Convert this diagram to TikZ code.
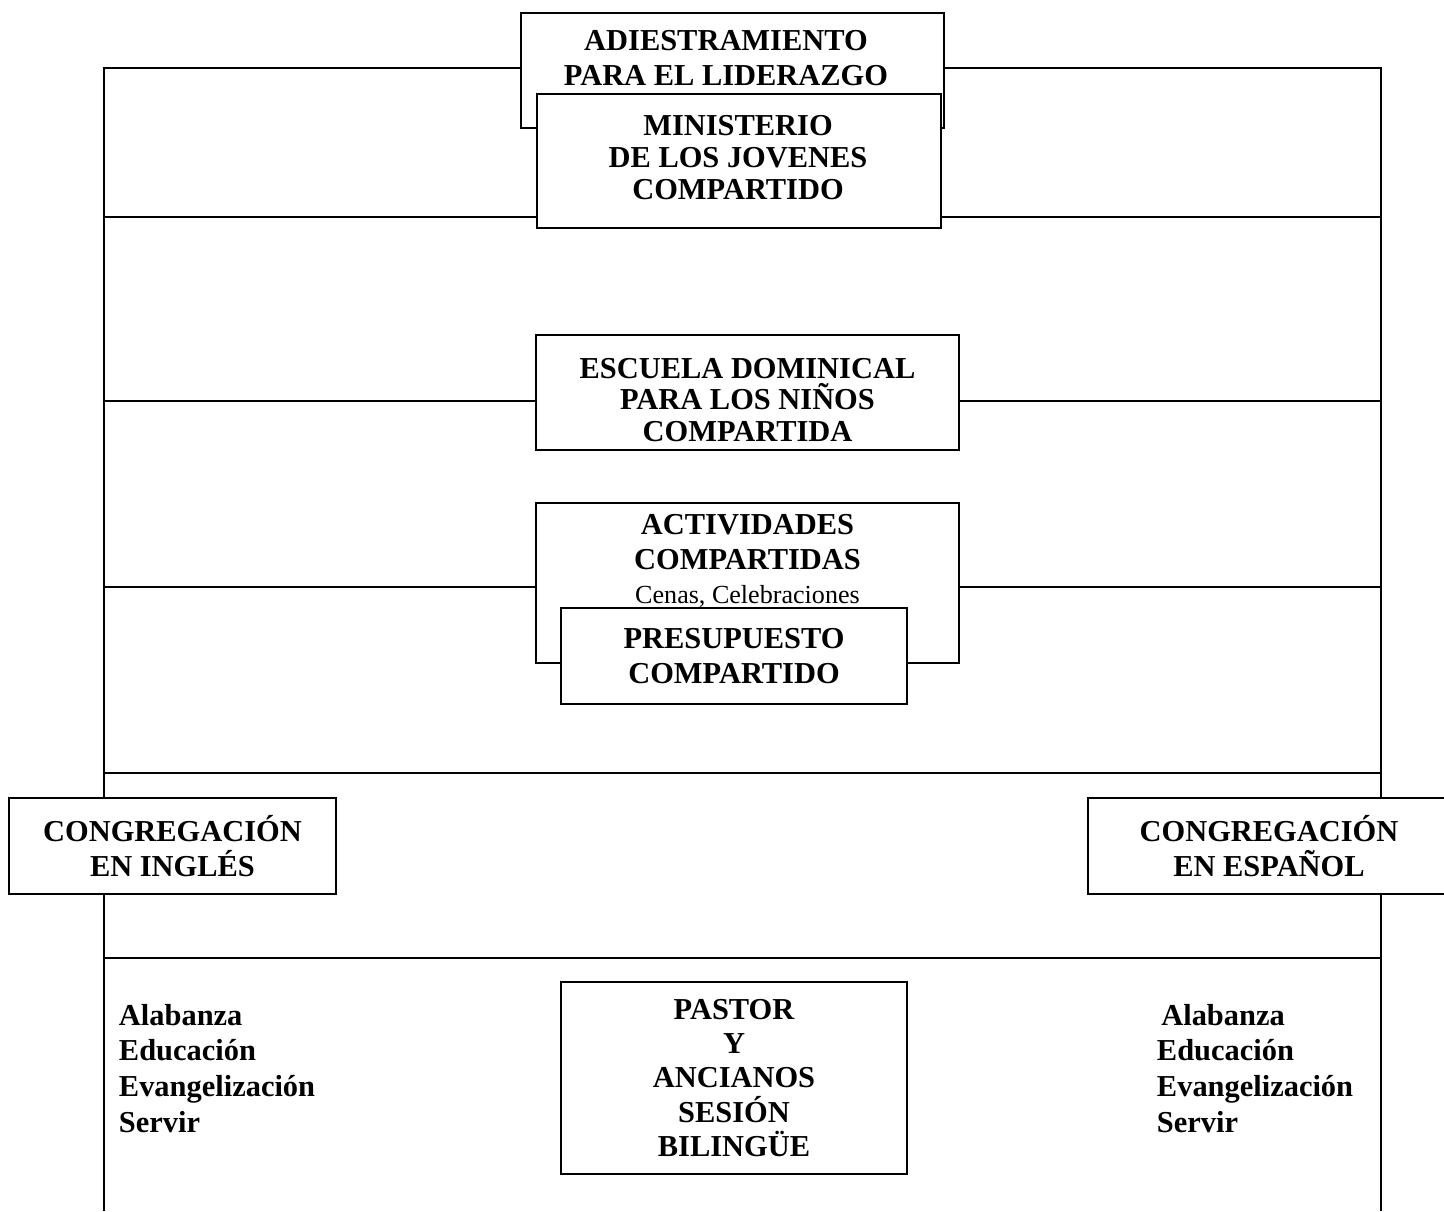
\documentclass[tikz,border=0pt]{standalone}
\usepackage{fontspec}
\setmainfont{Liberation Serif}
\newlength{\pxl}
\setlength{\pxl}{0.46pt}
\newcommand{\tb}{\bfseries\fontsize{14}{15.8}\selectfont}
\newcommand{\tbc}{\bfseries\fontsize{14}{14.6}\selectfont}

\begin{document}
\begin{tikzpicture}[x=0.46pt,y=-0.46pt,line width=0.9pt,
   caja/.style={draw=black,fill=white,inner sep=0pt,align=center,font=\tb},
   rotulo/.style={inner sep=0pt,align=center,font=\tb},
   lista/.style={inner sep=0pt,align=left,anchor=north west,
                 font=\bfseries\fontsize{14}{16.5}\selectfont}]
   \useasboundingbox (0,0) rectangle (1444,1211);
   \coordinate (ai) at (104,68);
   \coordinate (ad) at (1381,68);
   \coordinate (bi) at (104,1211);
   \coordinate (bd) at (1381,1211);
   \draw (bi) -- (ai) -- (ad) -- (bd);
   \foreach \y in {217,401,587,773,958}
      \draw (104,\y) -- (1381,\y);
   % cajas
   \node[caja,minimum width=423\pxl,minimum height=115\pxl] (adiestr) at (732.5,70.5) {};
   \node[rotulo] (adiestrT) at (726,58) {ADIESTRAMIENTO\\PARA EL LIDERAZGO};
   \node[caja,minimum width=404\pxl,minimum height=134\pxl] (minist) at (739,161) {};
   \node[rotulo,font=\tbc] (ministT) at (738,157.5) {MINISTERIO\\DE LOS JOVENES\\COMPARTIDO};
   \node[caja,minimum width=423\pxl,minimum height=115\pxl] (escuela) at (747.5,392.5) {};
   \node[rotulo,font=\tbc] (escuelaT) at (747.5,400) {ESCUELA DOMINICAL\\PARA LOS NIÑOS\\COMPARTIDA};
   \node[caja,minimum width=423\pxl,minimum height=160\pxl] (activ) at (747.5,583) {};
   \node[rotulo] (activT) at (747.5,561)
      {ACTIVIDADES\\COMPARTIDAS\\{\normalfont\fontsize{12}{14}\selectfont Cenas, Celebraciones}};
   \node[caja,minimum width=346\pxl,minimum height=96\pxl] (presup) at (734,656)
      {PRESUPUESTO\\COMPARTIDO};
   \node[caja,minimum width=327\pxl,minimum height=96\pxl] (congIn) at (172.5,846)
      {CONGREGACIÓN\\EN INGLÉS};
   \node[caja,minimum width=362\pxl,minimum height=96\pxl] (congEs) at (1269,846)
      {CONGREGACIÓN\\EN ESPAÑOL};
   \node[caja,minimum width=346\pxl,minimum height=192\pxl] (pastor) at (734,1078)
      {PASTOR\\Y\\ANCIANOS\\SESIÓN\\BILINGÜE};
   % listas
   \node[lista] (listaIn) at (118,1003) {Alabanza\\Educación\\Evangelización\\Servir};
   \node[lista] (listaEs) at (1156,1003) {\hspace*{2pt}Alabanza\\Educación\\Evangelización\\Servir};
\end{tikzpicture}
\end{document}
